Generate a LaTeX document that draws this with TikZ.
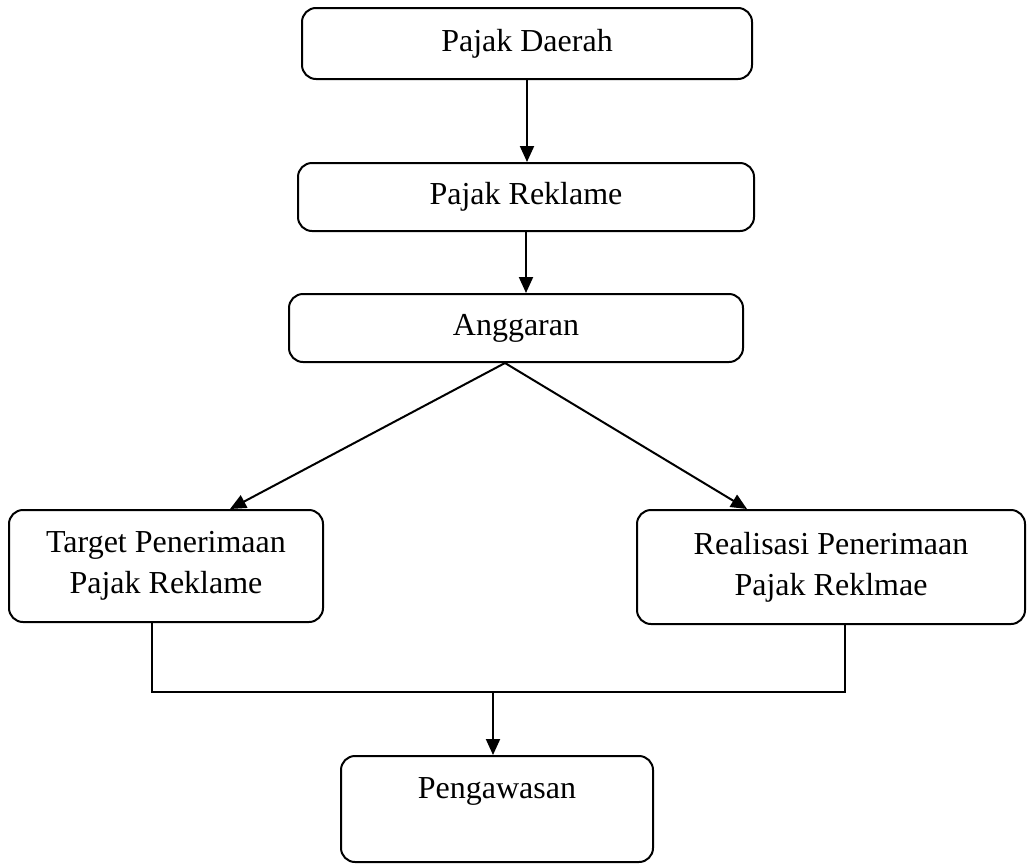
\documentclass[tikz,border=0pt]{standalone}
\usepackage{fontspec}
\setmainfont{Liberation Serif}
\usetikzlibrary{arrows.meta}
\begin{document}
\begin{tikzpicture}[x=1pt,y=-1pt,
  kotak/.style={draw, line width=2pt, rounded corners=14pt, align=center,
    inner sep=0pt, font=\fontsize{32}{41}\selectfont},
  panah/.style={line width=2pt, -{Triangle[length=16pt,width=14pt]}},
  garis/.style={line width=2pt}]
  \useasboundingbox (0,0) rectangle (1027,865);
  % kotak
  \node[kotak, minimum width=450pt, minimum height=71pt] (daerah) at (527,43.5) {Pajak Daerah};
  \node[kotak, minimum width=456pt, minimum height=68pt] (reklame) at (526,197) {Pajak Reklame};
  \node[kotak, minimum width=454pt, minimum height=68pt] (anggaran) at (516,328) {Anggaran};
  \node[kotak, minimum width=314pt, minimum height=112pt] (target) at (166,566) {Target Penerimaan\\Pajak Reklame};
  \node[kotak, minimum width=388pt, minimum height=114pt] (realisasi) at (831,567) {Realisasi Penerimaan\\Pajak Reklmae};
  \node[kotak, minimum width=312pt, minimum height=106pt] (awas) at (497,809) {Pengawasan\\\mbox{}};
  % panah
  \draw[panah] (daerah.south) -- (daerah.south |- reklame.north);
  \draw[panah] (reklame.south) -- (reklame.south |- anggaran.north);
  \coordinate (cabang) at ([xshift=-11pt]anggaran.south);
  \draw[panah] (cabang) -- ([xshift=64pt]target.north);
  \draw[panah] (cabang) -- ([xshift=-84pt]realisasi.north);
  \coordinate (kiri) at ([xshift=-14pt]target.south);
  \coordinate (kanan) at ([xshift=14pt]realisasi.south);
  \coordinate (temu) at ([xshift=-4pt]awas.north |- 0,692);
  \draw[garis] (kiri) -- (kiri |- temu) -- (kanan |- temu) -- (kanan);
  \draw[panah] (temu) -- ([xshift=-4pt]awas.north);
\end{tikzpicture}
\end{document}
